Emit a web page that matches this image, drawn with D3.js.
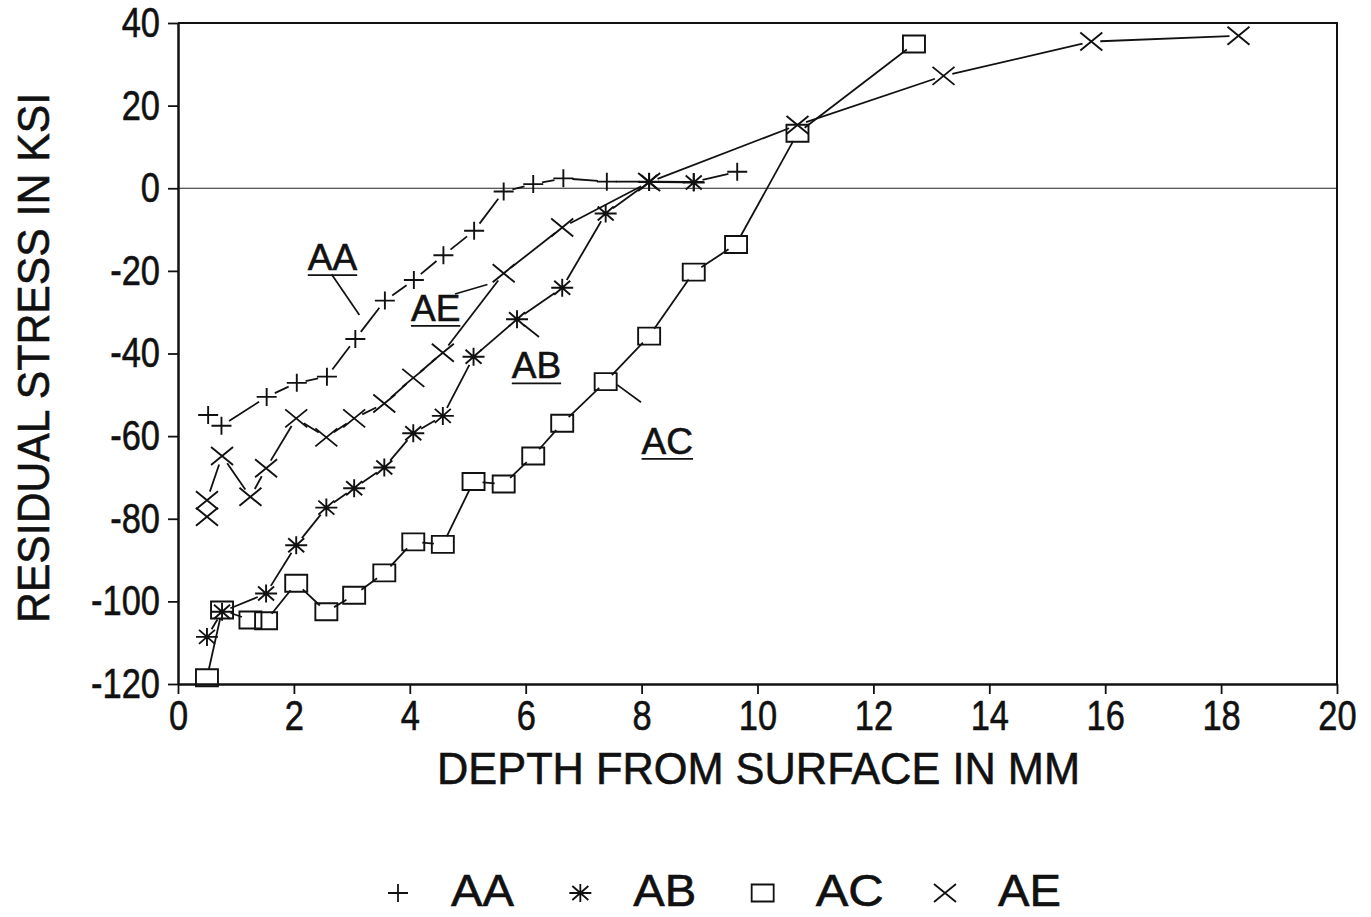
<!DOCTYPE html>
<html>
<head>
<meta charset="utf-8">
<script src="https://cdn.jsdelivr.net/npm/d3@7"></script>
<style>
  body { margin: 0; background: #fff; }
  svg { display: block; }
  text { font-family: "Liberation Sans", Arial, Helvetica, sans-serif; fill: #111; stroke: #111; stroke-width: 0.6px; }
</style>
</head>
<body>
<svg id="chart"></svg>
<script>
const width = 1371, height = 917;

// depth (mm) and residual stress (ksi)
const depthAA  = [0.52, 0.75, 1.53, 2.05, 2.57, 3.06, 3.57, 4.07, 4.58, 5.11, 5.62, 6.13, 6.65, 7.4, 8.13, 8.9, 9.65];
const stressAA = [-54.9, -57.5, -50.5, -47.1, -45.6, -36.5, -27.2, -22.2, -16.2, -10.3, -0.8, 1.0, 2.4, 1.6, 1.6, 1.5, 4.0];

const depthAB  = [0.5, 0.76, 1.52, 2.04, 2.56, 3.04, 3.56, 4.06, 4.57, 5.1, 5.85, 6.63, 7.38, 8.13, 8.9];
const stressAB = [-108.6, -102.5, -98.1, -86.4, -77.3, -72.6, -67.6, -59.3, -55.1, -40.8, -31.7, -24.1, -6.1, 1.5, 1.4];

const depthAC  = [0.5, 0.76, 1.25, 1.52, 2.04, 2.56, 3.04, 3.56, 4.06, 4.57, 5.1, 5.62, 6.13, 6.63, 7.38, 8.13, 8.9, 9.63, 10.69, 12.7];
const stressAC = [-118.5, -102.1, -104.5, -104.7, -95.6, -102.5, -98.5, -93.1, -85.6, -86.2, -71.0, -71.6, -64.8, -56.9, -46.8, -35.8, -20.3, -13.6, 13.3, 34.9];

const depthAE  = [0.5, 0.5, 0.76, 1.25, 1.52, 2.04, 2.56, 3.04, 3.56, 4.06, 4.57, 5.62, 6.63, 8.13, 10.69, 13.21, 15.76, 18.3];
const stressAE = [-79.5, -75.5, -64.8, -74.7, -67.8, -55.7, -60.3, -55.7, -52.1, -45.9, -39.8, -20.6, -9.5, 1.5, 15.3, 27.2, 35.5, 36.9];

const seriesNames = ["AA", "AB", "AC", "AE"];
const xTicks = [0, 2, 4, 6, 8, 10, 12, 14, 16, 18, 20];
const yTicks = [-120, -100, -80, -60, -40, -20, 0, 20, 40];

const series = [
    { name: "AA", sym: "plus",     xs: depthAA, ys: stressAA },
    { name: "AB", sym: "asterisk", xs: depthAB, ys: stressAB },
    { name: "AC", sym: "square",   xs: depthAC, ys: stressAC },
    { name: "AE", sym: "cross",    xs: depthAE, ys: stressAE }
];

const svg = d3.select("#chart")
    .attr("width", width)
    .attr("height", height)
    .attr("viewBox", [0, 0, width, height]);

const x = d3.scaleLinear().domain([0, 20]).range([178, 1337]);
const y = d3.scaleLinear().domain([-120, 40]).range([684, 23]);

// marker shapes, drawn around 0,0
const symbolPath = {
    plus: "M-10,0H10M0,-9V9",
    cross: "M-11,-9L11,9M-11,9L11,-9",
    square: "M-11,-8.5H11V8.5H-11Z",
    asterisk: "M-11,0H11M0,-9V9M-8,-7L8,7M-8,7L8,-7"
};

//////////// FRAME ////////////

// zero line
svg.append("line")
    .attr("x1", x(0)).attr("x2", x(20))
    .attr("y1", y(0)).attr("y2", y(0))
    .attr("stroke", "#222").attr("stroke-width", 1.2);

// top and right border
svg.append("path")
    .attr("d", `M${x(0)},${y(40)}H${x(20)}V${y(-120)}`)
    .attr("fill", "none").attr("stroke", "#111").attr("stroke-width", 2);

const plainNum = d => String(d);   // hyphen minus like the original

const xAxis = svg.append("g")
    .attr("transform", `translate(0,${y(-120)})`)
    .call(d3.axisBottom(x).tickValues(xTicks).tickFormat(plainNum)
        .tickSize(10).tickSizeOuter(0).tickPadding(6));

const yAxis = svg.append("g")
    .attr("transform", `translate(${x(0)},0)`)
    .call(d3.axisLeft(y).tickValues(yTicks).tickFormat(plainNum)
        .tickSize(10).tickSizeOuter(0).tickPadding(8));

[xAxis, yAxis].forEach(function (ax) {
    ax.select(".domain").attr("stroke", "#111").attr("stroke-width", 2.5);
    ax.selectAll(".tick line").attr("stroke", "#111").attr("stroke-width", 1.8);
    ax.selectAll(".tick text")
        .attr("fill", "#111")
        .style("font-family", '"Liberation Sans", Arial, sans-serif')
        .style("font-size", "42px");
});
xAxis.selectAll(".tick text").attr("transform", "scale(0.82,1)");
yAxis.selectAll(".tick text").attr("transform", function () {
    // squeeze horizontally, keep the right edge on the tick
    return "translate(-18,0) scale(0.82,1) translate(18,0)";
});

// axis titles
svg.append("text")
    .attr("x", 437).attr("y", 784)
    .attr("textLength", 643).attr("lengthAdjust", "spacingAndGlyphs")
    .style("font-size", "45px")
    .text("DEPTH FROM SURFACE IN MM");

svg.append("text")
    .attr("transform", "translate(49,358) rotate(-90)")
    .attr("text-anchor", "middle")
    .attr("textLength", 530).attr("lengthAdjust", "spacingAndGlyphs")
    .style("font-size", "45px")
    .text("RESIDUAL STRESS IN KSI");

//////////// SERIES ////////////

const gap = 9;
series.forEach(function (s) {
    const pts = s.xs.map((d, i) => [x(d), y(s.ys[i])]);
    const g = svg.append("g").attr("class", "series-" + s.name);

    // connecting segments, cut short of the markers
    const segs = d3.pairs(pts).filter(function (p) {
        return Math.hypot(p[1][0] - p[0][0], p[1][1] - p[0][1]) > 2 * gap + 2;
    });
    g.selectAll("line")
        .data(segs)
        .join("line")
        .each(function (p) {
            const dx = p[1][0] - p[0][0], dy = p[1][1] - p[0][1];
            const len = Math.hypot(dx, dy);
            const ux = dx / len, uy = dy / len;
            d3.select(this)
                .attr("x1", p[0][0] + ux * gap).attr("y1", p[0][1] + uy * gap)
                .attr("x2", p[1][0] - ux * gap).attr("y2", p[1][1] - uy * gap);
        })
        .attr("stroke", "#111").attr("stroke-width", 1.8);

    g.selectAll("path")
        .data(pts)
        .join("path")
        .attr("transform", d => `translate(${d[0]},${d[1]})`)
        .attr("d", symbolPath[s.sym])
        .attr("fill", "none").attr("stroke", "#111").attr("stroke-width", 1.9);
});

//////////// ANNOTATIONS ////////////

function note(label, xd, yd, leader) {
    const t = svg.append("text")
        .attr("x", x(xd)).attr("y", y(yd))
        .style("font-size", "37px")
        .text(label);
    const w = t.node().getComputedTextLength();
    svg.append("line")
        .attr("x1", x(xd)).attr("x2", x(xd) + w)
        .attr("y1", y(yd) + 5).attr("y2", y(yd) + 5)
        .attr("stroke", "#111").attr("stroke-width", 1.8);
    svg.append("line")
        .attr("x1", x(leader[0])).attr("y1", y(leader[1]))
        .attr("x2", x(leader[2])).attr("y2", y(leader[3]))
        .attr("stroke", "#111").attr("stroke-width", 1.7);
}

note("AA", 2.24, -19.8, [2.65, -20.8, 3.13, -30.7]);
note("AE", 4.02, -32.1, [4.78, -25.6, 5.34, -23.3]);
note("AB", 5.76, -46.0, [5.97, -33.1, 6.23, -36.0]);
note("AC", 8.0, -64.3, [7.58, -47.6, 7.99, -51.8]);

//////////// LEGEND ////////////

const legendX = d3.scalePoint().domain(seriesNames).range([398, 945]);
const legend = svg.append("g").attr("transform", "translate(0,893)");
series.forEach(function (s) {
    legend.append("path")
        .attr("transform", `translate(${legendX(s.name)},0)`)
        .attr("d", symbolPath[s.sym])
        .attr("fill", "none").attr("stroke", "#111").attr("stroke-width", 1.8);
    legend.append("text")
        .attr("x", legendX(s.name) + 53).attr("y", 13)
        .attr("textLength", s.name === "AC" ? 68 : 63).attr("lengthAdjust", "spacingAndGlyphs")
        .style("font-size", "44px")
        .text(s.name);
});
</script>
</body>
</html>
